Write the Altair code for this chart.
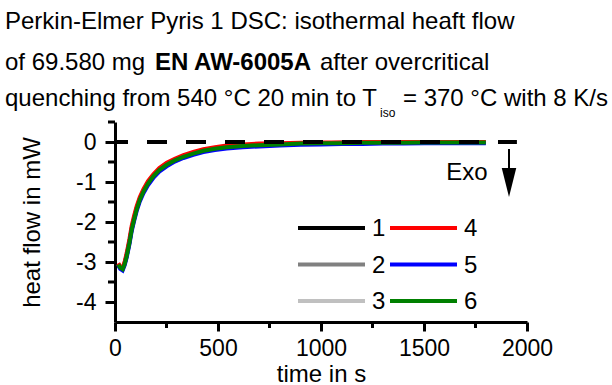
import altair as alt
import pandas as pd

# ---- data ----
t = [16, 25, 37, 47, 57, 70, 81, 93, 105, 120, 138, 160, 186, 215, 251, 290, 332, 380,
     429, 485, 542, 620, 700, 800, 900, 1000, 1100, 1200, 1300, 1400, 1500, 1600, 1700, 1800]

s1 = [-3.05, -3.13, -3.17, -3.03, -2.82, -2.49, -2.16, -1.90, -1.66, -1.43, -1.22, -1.02, -0.84, -0.69, -0.56,
      -0.45, -0.36, -0.28, -0.21, -0.16, -0.12, -0.09, -0.07, -0.05, -0.04, -0.03, -0.02, -0.02, -0.02, -0.01,
      -0.01, -0.01, -0.01, -0.01]
s2 = [-3.06, -3.14, -3.18, -3.04, -2.83, -2.50, -2.17, -1.91, -1.67, -1.44, -1.23, -1.03, -0.85, -0.69, -0.56,
      -0.45, -0.36, -0.28, -0.21, -0.16, -0.12, -0.09, -0.07, -0.05, -0.04, -0.03, -0.02, -0.02, -0.02, -0.01,
      -0.01, -0.01, -0.01, -0.01]
s3 = [-3.05, -3.13, -3.17, -3.04, -2.84, -2.51, -2.18, -1.92, -1.68, -1.44, -1.23, -1.03, -0.85, -0.70, -0.57,
      -0.46, -0.37, -0.29, -0.22, -0.17, -0.13, -0.10, -0.08, -0.06, -0.05, -0.04, -0.03, -0.03, -0.02, -0.02,
      -0.02, -0.01, -0.01, -0.01]
s4 = [-3.03, -3.11, -3.14, -2.99, -2.77, -2.43, -2.10, -1.84, -1.61, -1.38, -1.18, -0.98, -0.81, -0.65, -0.52,
      -0.42, -0.33, -0.25, -0.18, -0.13, -0.09, -0.06, -0.04, -0.03, -0.02, -0.01, -0.01, 0.0, 0.0, 0.0,
      0.0, 0.0, 0.0, 0.0]
s5 = [-3.09, -3.17, -3.21, -3.08, -2.88, -2.56, -2.23, -1.97, -1.73, -1.49, -1.28, -1.08, -0.90, -0.74, -0.61,
      -0.49, -0.40, -0.32, -0.25, -0.20, -0.16, -0.13, -0.11, -0.09, -0.07, -0.06, -0.05, -0.05, -0.04, -0.04,
      -0.03, -0.03, -0.03, -0.03]
s6 = [-3.06, -3.14, -3.18, -3.05, -2.85, -2.52, -2.19, -1.93, -1.69, -1.45, -1.24, -1.04, -0.86, -0.70, -0.57,
      -0.46, -0.37, -0.29, -0.22, -0.17, -0.13, -0.10, -0.08, -0.06, -0.04, -0.03, -0.03, -0.02, -0.02, -0.02,
      -0.01, -0.01, -0.01, -0.01]

series_names = ["1", "2", "3", "4", "5", "6"]
series_colors = ["#000000", "#808080", "#c0c0c0", "#ff0000", "#0000ff", "#008000"]

x_ticks = [0, 500, 1000, 1500, 2000]
y_ticks = [0, -1, -2, -3, -4]
x_minor = [250, 750, 1250, 1750]
y_minor = [0.5, -0.5, -1.5, -2.5, -3.5]
zero_line_t = [0, 1951]
zero_line_hf = [0, 0]

# ---- build table ----
rows = []
for name, vals in zip(series_names, [s1, s2, s3, s4, s5, s6]):
    for ti, v in zip(t, vals):
        rows.append({"t": ti, "hf": v, "run": name})
df = pd.DataFrame(rows)

FONT = "Liberation Sans"

x_axis = alt.Axis(values=x_ticks, title="time in s", tickSize=9, labelPadding=6,
                  titlePadding=2, labelFlush=False, format="d")
y_axis = alt.Axis(values=y_ticks, title="heat flow in mW", tickSize=10, labelPadding=9,
                  titlePadding=31, labelExpr="'' + datum.value")
x_scale = alt.Scale(domain=[0, 2000], nice=False, zero=False)
y_scale = alt.Scale(domain=[-4.5, 0.5], nice=False, zero=False)
x_enc = alt.X("t:Q", scale=x_scale, axis=x_axis)
y_enc = alt.Y("hf:Q", scale=y_scale, axis=y_axis)

lines = alt.Chart(df).mark_line(strokeWidth=4).encode(
    x=x_enc,
    y=y_enc,
    color=alt.Color("run:N", scale=alt.Scale(domain=series_names, range=series_colors), legend=None),
    order=alt.Order("t:Q"),
)

zero_line = alt.Chart(pd.DataFrame({"t": zero_line_t, "hf": zero_line_hf})).mark_line(
    color="black", strokeWidth=4, strokeDash=[20, 19], strokeDashOffset=7
).encode(x=x_enc, y=y_enc)

x_minor_rules = alt.Chart(pd.DataFrame({"t": x_minor})).mark_rule(
    color="black", strokeWidth=3).encode(x=x_enc, y=alt.value(200), y2=alt.value(206))
y_minor_rules = alt.Chart(pd.DataFrame({"hf": y_minor})).mark_rule(
    color="black", strokeWidth=3).encode(y=y_enc, x=alt.value(0), x2=alt.value(-7))

one = pd.DataFrame({"a": [0]})


def txt(text, x, y, size=24, weight="normal", align="left", baseline="alphabetic"):
    return alt.Chart(one).mark_text(text=text, font=FONT, fontSize=size, fontWeight=weight,
                                    align=align, baseline=baseline, color="black").encode(
        x=alt.value(x), y=alt.value(y))


title_layers = [
    txt("Perkin-Elmer Pyris 1 DSC: isothermal heaft flow", -110, -93),
    txt("of 69.580 mg", -110, -52),
    txt("EN AW-6005A", 40, -52, weight="bold"),
    txt("after overcritical", 205, -52),
    txt("quenching from 540 °C 20 min to T", -110, -16),
    txt("iso", 265, -5, size=12),
    txt("= 370 °C with 8 K/s", 493, -16, align="right"),
    txt("Exo", 352, 51, align="center", baseline="middle"),
]

# ---- legend (two columns: 1-3, 4-6) ----
legend_layers = []
col_x = [183, 275]
row_y = [106, 142.5, 179]
for i, (name, colr) in enumerate(zip(series_names, series_colors)):
    c, r = divmod(i, 3)
    legend_layers.append(
        alt.Chart(one).mark_rule(color=colr, strokeWidth=4).encode(
            x=alt.value(col_x[c]), x2=alt.value(col_x[c] + 67), y=alt.value(row_y[r])))
    legend_layers.append(txt(name, col_x[c] + 74, row_y[r] + 1, baseline="middle"))

arrow_line = alt.Chart(one).mark_rule(color="black", strokeWidth=2).encode(
    x=alt.value(394), y=alt.value(27), y2=alt.value(48))
arrow_head = alt.Chart(one).mark_point(
    shape="M-0.5,-1L0.5,-1L0,1Z", size=841, filled=True, color="black", opacity=1
).encode(x=alt.value(394), y=alt.value(60.5))

chart = alt.layer(
    lines, zero_line, x_minor_rules, y_minor_rules, arrow_line, arrow_head,
    *legend_layers, *title_layers
).properties(
    width=412, height=200,
    padding={"left": 115, "top": 122, "right": 85, "bottom": 63},
    autosize="none", background="white",
).configure_axis(
    labelFont=FONT, titleFont=FONT, labelFontSize=23, titleFontSize=24,
    titleFontWeight="normal", labelColor="black", titleColor="black",
    domainColor="black", tickColor="black", domainWidth=3, tickWidth=3, grid=False,
).configure_view(stroke=None)

chart.save("out.html", embed_options={"renderer": "svg", "actions": False})
